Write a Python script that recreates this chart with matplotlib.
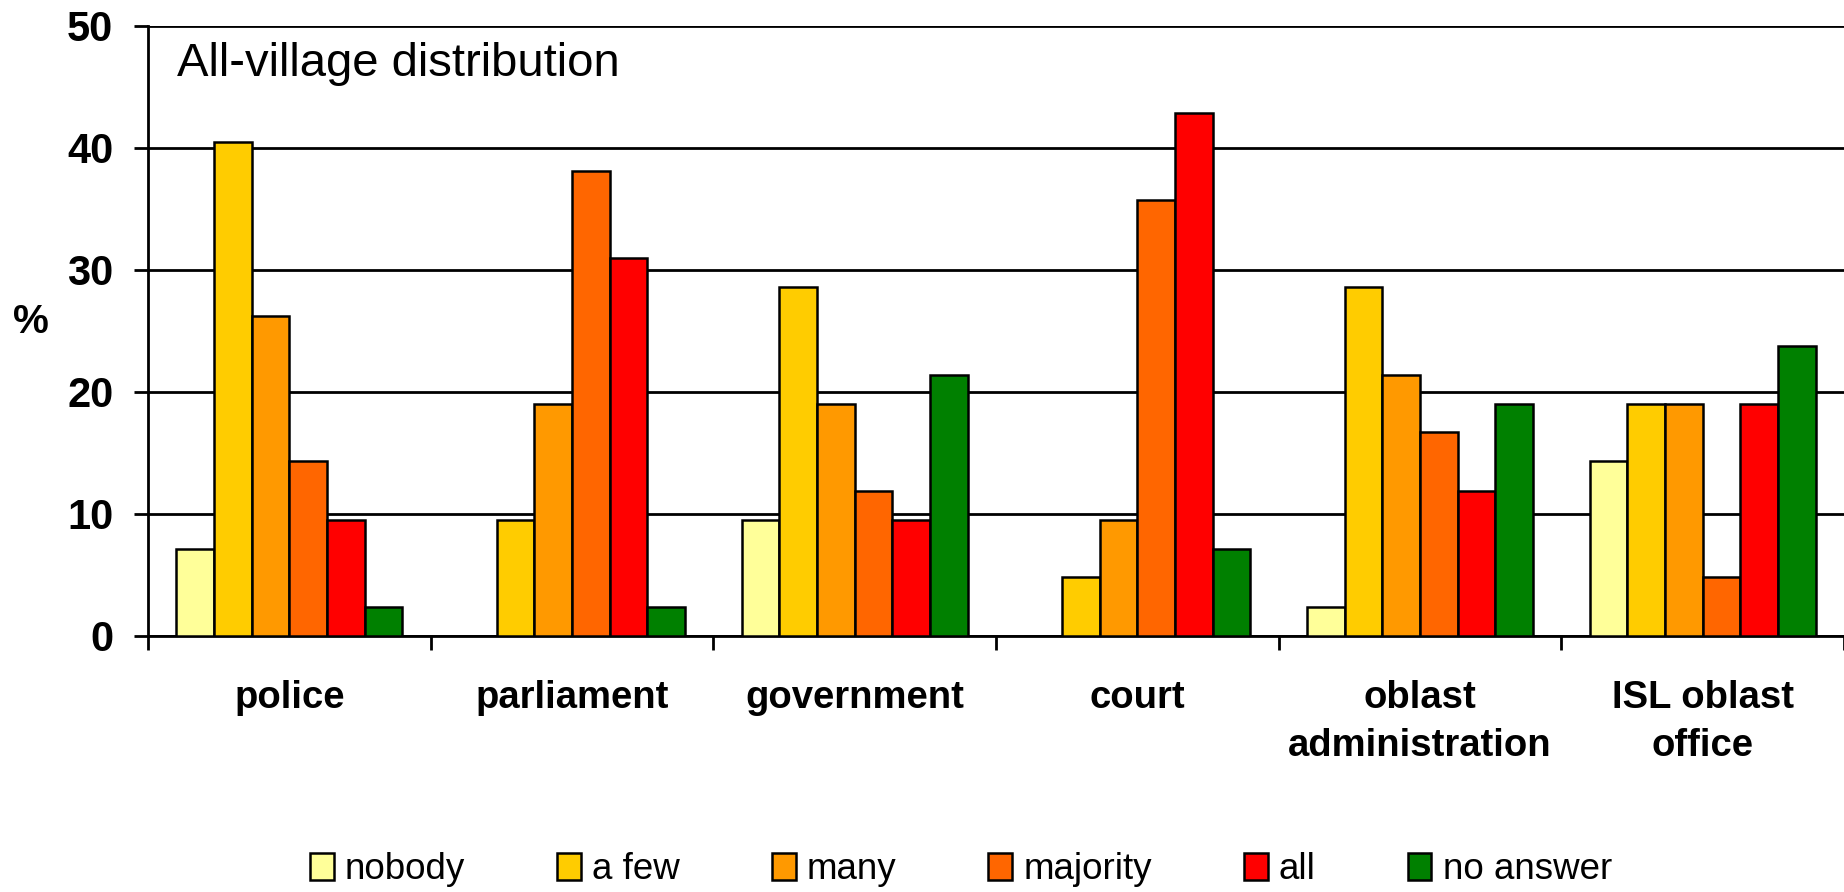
import numpy as np
import matplotlib
matplotlib.use("Agg")
import matplotlib.pyplot as plt

plt.rcParams['font.family'] = ['Liberation Sans', 'DejaVu Sans']

# data (n = 42 answers per institution)
institutions = ["police", "parliament", "government", "court",
                "oblast\nadministration", "ISL oblast\noffice"]
answers = ["nobody", "a few", "many", "majority", "all", "no answer"]
colors = ["#FFFF99", "#FFCC00", "#FF9900", "#FF6600", "#FF0000", "#008000"]

nobody = [7.1, 0.0, 9.5, 0.0, 2.4, 14.3]
a_few = [40.5, 9.5, 28.6, 4.8, 28.6, 19.0]
many = [26.2, 19.0, 19.0, 9.5, 21.4, 19.0]
majority = [14.3, 38.1, 11.9, 35.7, 16.7, 4.8]
all_ = [9.5, 31.0, 9.5, 42.9, 11.9, 19.0]
no_answer = [2.4, 2.4, 21.4, 7.1, 19.0, 23.8]
series = [nobody, a_few, many, majority, all_, no_answer]

fig = plt.figure(figsize=(18.44, 8.92), dpi=100)
ax = fig.add_axes([0.0803, 0.287, 0.9197, 0.684])

x = np.arange(len(institutions))
w = 0.8 / len(series)
for i, (vals, name, c) in enumerate(zip(series, answers, colors)):
    ax.bar(x - 0.4 + w * (i + 0.5), vals, w, color=c, edgecolor="black",
           linewidth=1.8, label=name, zorder=3)

ax.set_xlim(-0.5, len(institutions) - 0.5)
ax.set_ylim(0, 50)
ax.set_yticks(np.arange(0, 51, 10))
ax.yaxis.grid(True, color="black", linewidth=2.0, zorder=0)
ax.set_axisbelow(True)

# boundary ticks (major) and centred labels (minor)
ax.set_xticks(np.arange(-0.5, len(institutions), 1.0))
ax.set_xticklabels([])
ax.set_xticks(x, minor=True)
ax.set_xticklabels(institutions, minor=True, fontsize=27.5, fontweight="bold",
                   linespacing=1.42)
ax.tick_params(axis="x", which="major", direction="out", length=10, width=2.0)
ax.tick_params(axis="x", which="minor", length=0, pad=32)
ax.tick_params(axis="y", direction="out", length=10, width=2.0, pad=15,
               labelsize=30)
for lab in ax.get_yticklabels():
    lab.set_fontweight("bold")

for s in ["top", "right"]:
    ax.spines[s].set_visible(False)
ax.spines["left"].set_linewidth(2.0)
ax.spines["bottom"].set_linewidth(2.0)

fig.text(0.0168, 0.639, "%", fontsize=29, fontweight="bold",
         ha="center", va="center")
ax.text(0.0171, 0.918, "All-village distribution", transform=ax.transAxes,
        fontsize=34, ha="left", va="baseline")

fig.legend(loc="center", bbox_to_anchor=(0.521, 0.025), ncol=6, frameon=False,
           fontsize=26.5, handlelength=0.65, handleheight=0.75,
           handletextpad=0.3, columnspacing=2.5)

fig.savefig("out.png", dpi=100)
